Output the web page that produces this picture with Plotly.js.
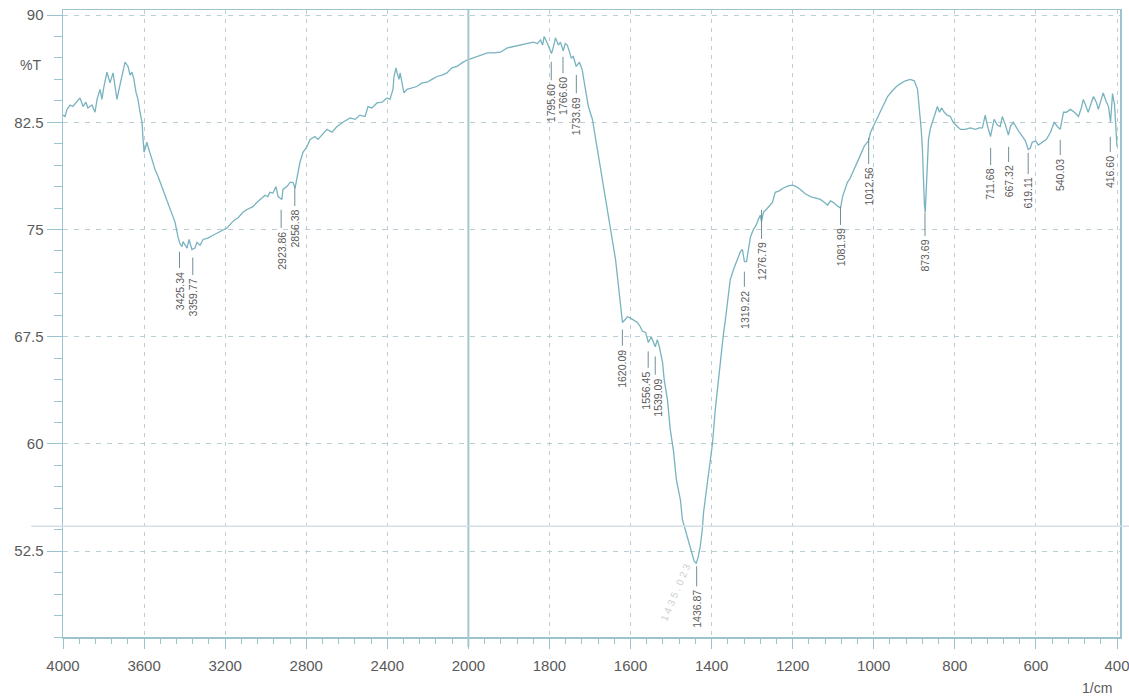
<!DOCTYPE html>
<html>
<head>
<meta charset="utf-8">
<script src="https://cdn.plot.ly/plotly-3.0.1.min.js"></script>
<style>html,body{margin:0;padding:0;background:#fff;}#chart{width:1129px;height:698px;}</style>
</head>
<body>
<div id="chart"></div>
<script>
// Wavenumber (1/cm) and transmittance (%T)
const wavenumber = [4000,3990,3980,3965,3951,3931,3916,3901,3887,3877,3857,3842,3832,3817,3808,3798,3783,3768,3753,3743,3734,3719,3709,3694,3679,3669,3660,3650,3640,3630,3620,3610,3605,3600,3586,3581,3561,3546,3531,3507,3482,3462,3447,3433,3423,3413,3408,3388,3378,3364,3349,3339,3324,3309,3285,3260,3225,3191,3166,3151,3137,3112,3092,3077,3063,3043,3018,3003,2989,2979,2964,2949,2939,2920,2915,2895,2880,2866,2855,2846,2831,2816,2796,2781,2757,2742,2722,2698,2673,2648,2619,2584,2559,2535,2510,2495,2476,2451,2426,2402,2387,2372,2367,2357,2352,2342,2337,2328,2318,2303,2278,2254,2229,2204,2180,2155,2130,2106,2081,2056,2032,2007,
1988,1970,1953,1938,1921,1904,1889,1872,1854,1840,1830,1822,1817,1813,1805,1795,1790,1785,1778,1773,1766,1761,1756,1751,1746,1741,1734,1726,1719,1716,1709,1704,1694,1687,1674,1662,1650,1637,1630,1625,1620,1613,1608,1600,1593,1583,1576,1571,1563,1556,1549,1544,1539,1534,1529,1521,1517,1509,1502,1494,1487,1477,1472,1465,1460,1452,1447,1443,1438,1433,1428,1423,1420,1415,1408,1403,1398,1391,1383,1378,1371,1366,1359,1354,1346,1339,1334,1329,1324,1319,1314,1309,1304,1297,1290,1285,1280,1277,1272,1262,1250,1243,1233,1223,1211,1201,1191,1181,1169,1156,1144,1132,1122,1114,1107,1100,1092,1082,1077,1070,1065,1058,1045,1033,1023,1013,1008,996,984,974,966,954,944,934,922,910,900,892,888,883,880,878,875,873,870,868,865,860,853,848,843,838,833,826,819,811,804,794,786,774,762,749,740,732,725,720,712,707,703,695,688,683,675,668,663,656,648,641,633,626,619,614,609,601,594,584,574,564,555,547,540,532,525,515,505,495,488,483,476,471,463,458,451,446,439,434,426,421,416,411,406,402,400];
const transmittance = [83.0,82.9,83.4,83.7,83.6,83.9,84.2,83.6,83.9,83.5,83.7,83.2,84.1,84.8,84.1,85.0,86.0,85.25,85.95,85.0,84.1,85.1,85.7,86.7,86.4,85.8,86.0,85.5,84.6,84.1,83.2,82.5,81.3,80.4,81.1,80.8,79.9,79.2,78.7,77.8,76.9,76.2,75.5,74.5,74.0,73.8,74.15,73.7,74.3,73.6,73.7,74.1,73.9,74.3,74.4,74.6,74.85,75.1,75.5,75.7,75.8,76.2,76.4,76.5,76.6,76.9,77.2,77.4,77.3,77.6,77.55,78.0,77.3,77.1,77.8,78.0,78.3,78.3,77.9,78.5,79.7,80.4,80.8,81.3,81.5,81.3,81.6,82.0,81.8,82.2,82.5,82.8,82.7,83.0,82.9,83.6,83.5,83.85,83.9,84.2,84.1,84.8,85.7,86.3,85.95,85.5,85.95,85.25,84.55,84.8,84.9,85.0,85.25,85.3,85.5,85.7,85.8,85.95,86.3,86.4,86.65,86.85,
87.0,87.2,87.35,87.35,87.4,87.7,87.8,87.9,88.0,88.1,88.0,88.25,87.9,88.5,88.0,87.3,87.8,88.4,87.9,88.1,87.5,88.0,87.9,87.4,87.0,87.1,86.4,86.7,86.15,85.6,84.55,83.6,82.7,81.5,79.2,77.4,75.3,72.9,71.1,69.75,68.5,68.7,68.9,68.8,68.7,68.5,68.2,67.9,67.8,67.1,67.5,67.2,66.8,67.3,66.8,65.7,64.5,63.1,61.0,59.5,57.5,56.1,54.7,54.0,53.5,52.6,52.15,51.8,51.65,52.1,52.85,54.0,55.2,56.3,57.5,58.8,60.0,62.4,64.5,66.1,67.65,68.7,70.45,71.5,72.2,72.75,73.1,73.45,73.6,72.75,72.75,73.6,74.5,75.0,75.3,75.7,76.0,75.55,76.2,76.5,76.9,77.6,77.7,77.9,78.05,78.1,78.0,77.8,77.5,77.3,77.2,77.1,76.9,76.7,77.0,76.9,76.7,76.5,77.3,77.9,78.3,78.6,79.5,80.2,80.85,81.2,81.8,82.5,83.3,83.9,84.3,84.7,85.0,85.2,85.4,85.5,85.4,84.8,83.7,82.0,80.6,78.8,76.7,76.2,77.8,79.5,81.3,82.1,82.7,83.2,83.6,83.2,83.5,83.2,83.0,82.9,82.5,82.2,82.0,82.0,82.1,82.0,82.1,82.1,83.0,82.3,81.5,82.2,82.7,82.3,82.2,82.9,82.3,81.6,82.2,82.5,82.1,81.8,81.5,81.2,80.6,80.7,81.1,81.2,80.9,81.1,81.3,81.8,82.5,82.2,82.0,83.2,83.2,83.4,83.2,82.9,83.5,84.1,83.6,83.2,83.9,84.3,83.9,83.4,84.1,84.55,83.9,83.6,82.5,84.5,83.7,81.5,80.8];

// Peak labels: wavenumber, top of the marker line (%T), top of the label text (%T)
const peakLabels = ["3425.34","3359.77","2923.86","2856.38","1795.60","1766.60","1733.69","1620.09","1556.45","1539.09","1436.87","1319.22","1276.79","1081.99","1012.56","873.69","711.68","667.32","619.11","540.03","416.60"];
const peakWn = [3425.34,3359.77,2923.86,2856.38,1795.60,1766.60,1733.69,1620.09,1556.45,1539.09,1436.87,1319.22,1276.79,1081.99,1012.56,873.69,711.68,667.32,619.11,540.03,416.60];
const peakLineTop = [73.45,73.03,76.38,77.99,86.72,87.07,85.81,68.00,66.47,66.12,51.45,72.05,76.38,76.59,81.41,76.17,80.71,80.78,80.36,81.27,81.48];
const peakTextTop = [72.19,71.70,74.99,76.52,85.32,85.81,84.41,66.75,65.21,64.72,49.92,70.87,74.22,75.20,79.46,74.43,79.39,79.60,78.76,80.08,80.29];

// Axis ticks
const xTickWn = [4000,3600,3200,2800,2400,2000,1800,1600,1400,1200,1000,800,600,400];
const yTickVals = [52.5,60,67.5,75,82.5,90];
const yTickText = ["52.5","60","67.5","75","82.5","90"];

// The instrument axis is compressed 2:1 above 2000 1/cm
function axisPos(w){ return w > 2000 ? 2000 + (w - 2000) / 2 : w; }

const gridCol = '#b9cfd4';
const axisCol = '#9cc4cf';
const textCol = '#5a5a5a';
const fontFam = '"Liberation Sans", Arial, sans-serif';

const trace = {
  x: wavenumber.map(axisPos),
  y: transmittance,
  type: 'scatter',
  mode: 'lines',
  line: {color: '#78b3bf', width: 1.3},
  hoverinfo: 'skip'
};

const shapes = [];
const annotations = [];
for (let i = 0; i < peakWn.length; i++) {
  const xp = axisPos(peakWn[i]);
  // keep the two crowded labels near 1550 apart as on the print
  const nudge = peakLabels[i] === "1539.09" ? 3 : (peakLabels[i] === "1556.45" ? -2 : 0);
  shapes.push({type:'line', xref:'x', yref:'y', x0:xp, x1:xp, y0:peakLineTop[i], y1:peakTextTop[i] + 0.12,
    line:{color:'#6f8f96', width:1}});
  annotations.push({x:xp, y:peakTextTop[i], xref:'x', yref:'y', text:peakLabels[i], showarrow:false,
    xshift:nudge, textangle:-90, xanchor:'center', yanchor:'top',
    font:{family:fontFam, size:10.5, color:textCol}});
}
// solid 2000 line
shapes.push({type:'line', xref:'x', yref:'paper', x0:2000, x1:2000, y0:-0.016, y1:1,
  line:{color:'#a6c7cf', width:2}});
// faint horizontal scan line across the sheet
shapes.push({type:'line', xref:'paper', yref:'y', x0:-0.03, x1:1.01, y0:54.25, y1:54.25,
  line:{color:'#d3e0e5', width:1.5}});

annotations.push({xref:'paper', yref:'paper', x:-0.031, y:0.913, text:'%T', showarrow:false,
  xanchor:'center', yanchor:'middle', font:{family:fontFam, size:14, color:textCol}});
annotations.push({xref:'paper', yref:'paper', x:0.978, y:-0.082, text:'1/cm', showarrow:false,
  xanchor:'center', yanchor:'middle', font:{family:fontFam, size:14, color:textCol}});
annotations.push({x:axisPos(1489), y:49.6, xref:'x', yref:'y', text:'1 4 3 5 . 0 2 3', showarrow:false,
  textangle:-67, font:{family:fontFam, size:10, color:'#c9cfd2'}});

const layout = {
  width: 1129, height: 698,
  margin: {l:63, r:9, t:10, b:61},
  paper_bgcolor: '#ffffff', plot_bgcolor: '#ffffff',
  showlegend: false,
  xaxis: {
    range: [3000, 392.6],
    tickmode: 'array',
    tickvals: xTickWn.map(axisPos),
    ticktext: xTickWn.map(String),
    ticks: 'outside', ticklen: 10, tickcolor: axisCol, tickwidth: 1,
    ticklabelstandoff: 4,
    ticklabeloverflow: 'allow',
    showgrid: true, gridcolor: gridCol, gridwidth: 1, griddash: '4px,5px',
    showline: true, linecolor: axisCol, linewidth: 1.5, mirror: true,
    zeroline: false,
    tickfont: {family: fontFam, size: 15, color: textCol},
    minor: {tickmode:'linear', tick0: 400, dtick: 40, ticks: 'outside', ticklen: 5, tickcolor: axisCol, showgrid: false}
  },
  yaxis: {
    range: [46.5, 90.35],
    tickmode: 'array',
    tickvals: yTickVals,
    ticktext: yTickText,
    ticks: 'outside', ticklen: 15, tickcolor: axisCol, tickwidth: 1,
    ticklabeloverflow: 'allow',
    showgrid: true, gridcolor: gridCol, gridwidth: 1, griddash: '5px,6px',
    showline: true, linecolor: axisCol, linewidth: 1.5, mirror: true,
    zeroline: false,
    tickfont: {family: fontFam, size: 15, color: textCol},
    minor: {tickmode:'linear', tick0: 46.5, dtick: 1.5, ticks: 'outside', ticklen: 8, tickcolor: axisCol, showgrid: false}
  },
  shapes: shapes,
  annotations: annotations
};

Plotly.newPlot('chart', [trace], layout, {displayModeBar: false, staticPlot: true});
</script>
</body>
</html>
